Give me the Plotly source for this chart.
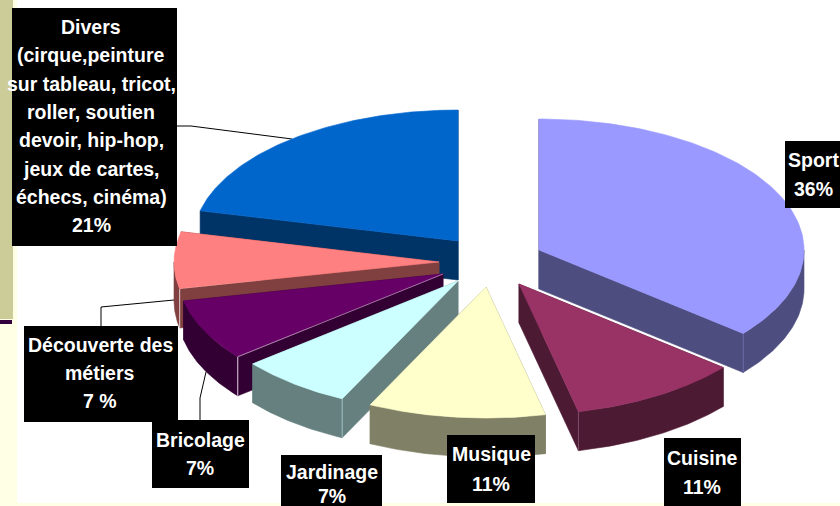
import numpy as np
import plotly.graph_objects as go

# Data (share of the circle, clockwise from 12 o'clock)
categories = ["Sport", "Cuisine", "Musique", "Jardinage", "Bricolage", "Découverte des métiers", "Divers"]
values = [36.0, 10.4, 10.8, 6.9, 7.6, 7.0, 21.3]
label_lines = [
    ["Sport", "36%"],
    ["Cuisine", "11%"],
    ["Musique", "11%"],
    ["Jardinage", "7%"],
    ["Bricolage", "7%"],
    ["Découverte des", "métiers", "7 %"],
    ["Divers", "(cirque,peinture", "sur tableau, tricot,", "roller, soutien", "devoir, hip-hop,",
     "jeux de cartes,", "échecs, cinéma)", "21%"],
]

# Styling / layout
top_colors = ["#9999FF", "#993366", "#FFFFCC", "#CCFFFF", "#660066", "#FF8080", "#0066CC"]
side_colors = ["#4D4D80", "#4D1A33", "#808066", "#668080", "#330033", "#804040", "#003366"]
corner_colors = ["#6A6AA8", "#80506A", None, "#A0C0C0", "#E0D0E0", "#E0D0D0", None]
corner_at_end = [True, True, False, False, False, False, False]
apex_x = [539, 519, 486, 458, 443, 439, 458]
apex_y = [250, 284, 287, 281, 274, 262, 241]
RX, RY, DEPTH = 265, 131, 39
boxes = [(785, 141, 840, 208), (664, 438, 741, 506), (447, 435, 535, 503), (281, 455, 382, 520),
         (152, 420, 249, 488), (24, 326, 178, 422), (12, 8, 177, 246)]
text_cx = [813, 702, 491, 332, 200, 100, 91]
text_y0 = [160, 458, 454, 472, 440, 345, 27]
line_h = [29, 29, 30, 24, 28, 28, 28.3]
leaders = [([177, 191, 292], [126, 126, 139]), ([101, 101, 174], [326, 307, 300]), ([200, 200, 206], [420, 398, 372])]
FONT = "Liberation Sans"
FONT_SIZE = 19.5

fig = go.Figure()


def add_poly(xs, ys, color):
    fig.add_trace(go.Scatter(x=list(xs), y=list(ys), mode="lines", fill="toself", fillcolor=color,
                             line=dict(color=color, width=0.6), hoverinfo="skip", showlegend=False))


for xs, ys in leaders:
    fig.add_trace(go.Scatter(x=xs, y=ys, mode="lines", line=dict(color="black", width=1),
                             hoverinfo="skip", showlegend=False))

# Angular extents from the values
total = sum(values)
cum = np.concatenate([[0], np.cumsum(values)]) / total * 2 * np.pi
order = [6, 5, 4, 3, 2, 0, 1]  # back to front
for i in order:
    t0, t1 = cum[i], cum[i + 1]
    cx, cy = apex_x[i], apex_y[i]
    pt = lambda t: (cx + RX * np.sin(t), cy - RY * np.cos(t))
    # radial walls
    for t in (t0, t1):
        x, y = pt(t)
        add_poly([cx, x, x, cx, cx], [cy, y, y + DEPTH, cy + DEPTH, cy], side_colors[i])
    # outer wall (front half only)
    a, b = max(t0, np.pi / 2), min(t1, 3 * np.pi / 2)
    if b > a:
        t = np.linspace(a, b, 60)
        x, y = pt(t)
        add_poly(np.r_[x, x[::-1], x[0]], np.r_[y, y[::-1] + DEPTH, y[0]], side_colors[i])
    # light corner where two walls meet
    if corner_colors[i]:
        x, y = pt(t1 if corner_at_end[i] else t0)
        fig.add_trace(go.Scatter(x=[x, x], y=[y, y + DEPTH], mode="lines",
                                 line=dict(color=corner_colors[i], width=1), hoverinfo="skip", showlegend=False))
    # top face
    t = np.linspace(t0, t1, 120)
    x, y = pt(t)
    add_poly(np.r_[cx, x, cx], np.r_[cy, y, cy], top_colors[i])
    if i == 4:  # thin pale edge along the purple slice
        x, y = pt(t0)
        fig.add_trace(go.Scatter(x=[cx, x], y=[cy, y], mode="lines",
                                 line=dict(color="#C8A8C8", width=0.7), hoverinfo="skip", showlegend=False))

annotations = []
shapes = [
    dict(type="rect", xref="x", yref="y", x0=17, x1=840, y0=-2, y1=503, fillcolor="white", line_width=0, layer="below"),
    dict(type="rect", xref="x", yref="y", x0=0, x1=13, y0=-2, y1=319, fillcolor="#CCCC99", line_width=0, layer="below"),
    dict(type="rect", xref="x", yref="y", x0=0, x1=12, y0=320, y1=324, fillcolor="#33003D", line_width=0, layer="below"),
]
for i, lines in enumerate(label_lines):
    x0, y0, x1, y1 = boxes[i]
    shapes.append(dict(type="rect", xref="x", yref="y", x0=x0, x1=x1, y0=y0, y1=y1,
                       fillcolor="black", line_width=0, layer="above"))
    for j, s in enumerate(lines):
        annotations.append(dict(x=text_cx[i], y=text_y0[i] + j * line_h[i], xref="x", yref="y", text="<b>%s</b>" % s,
                                showarrow=False, xanchor="center", yanchor="middle",
                                font=dict(family=FONT, size=FONT_SIZE, color="white")))

fig.update_layout(
    width=840, height=506, margin=dict(l=0, r=0, t=0, b=0), paper_bgcolor="#FFFFE6", plot_bgcolor="rgba(0,0,0,0)",
    xaxis=dict(range=[0, 840], visible=False, fixedrange=True),
    yaxis=dict(range=[506, 0], visible=False, fixedrange=True),
    shapes=shapes, annotations=annotations, showlegend=False,
)
fig.write_html("out.html", config={"displayModeBar": False},
               post_script="document.body.style.margin='0';document.body.style.overflow='hidden';")
